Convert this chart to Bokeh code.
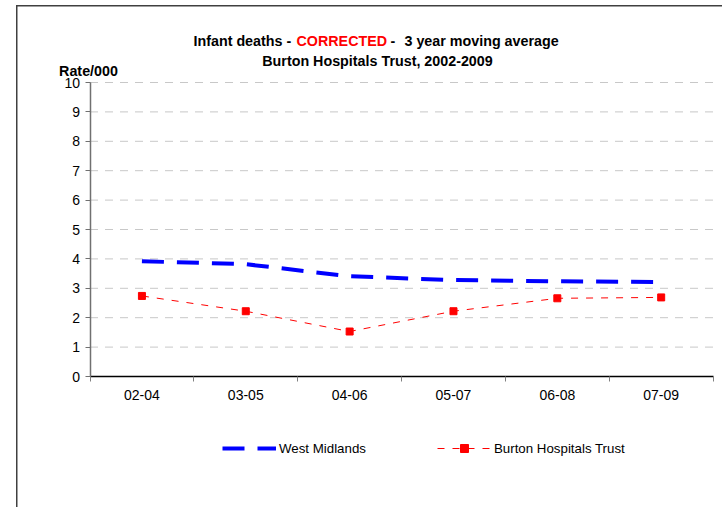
import numpy as np
from bokeh.plotting import figure
from bokeh.models import (Range1d, FixedTicker, Label, Legend, LegendItem,
                          ColumnDataSource)
from bokeh.embed import file_html
from bokeh.resources import INLINE

# ---- data ----
periods = ["02-04", "03-05", "04-06", "05-07", "06-08", "07-09"]
west_midlands = [3.92, 3.82, 3.41, 3.28, 3.24, 3.21]
burton = [2.74, 2.22, 1.53, 2.22, 2.66, 2.69]
y_ticks = list(range(0, 11))
title_1a = "Infant deaths -"
title_1b = "CORRECTED"
title_1c = "-"
title_1d = "3 year moving average"
title_2 = "Burton Hospitals Trust, 2002-2009"
y_title = "Rate/000"
series_names = ["West Midlands", "Burton Hospitals Trust"]

FONT = "Liberation Sans"

# ---- layout constants (pixels) ----
W, H = 722, 507
FL, FB = 40, 40          # frame left offset / bottom border
X0, XU = 89.5, 103.85    # pixel of x=0, pixels per category
Y0, YU = 376.0, 29.4     # pixel of y=0, pixels per unit
frame_bottom = H - FB

n = len(periods)
x_range = Range1d((FL - X0) / XU, (W - X0) / XU)
y_range = Range1d((Y0 - frame_bottom) / YU, Y0 / YU)

xc = np.arange(n) + 0.5
src = ColumnDataSource(dict(x=xc, wm=west_midlands, bu=burton))

p = figure(width=W, height=H, output_backend="svg", toolbar_location=None,
           x_range=x_range, y_range=y_range,
           min_border_left=FL, min_border_right=0, min_border_top=0,
           min_border_bottom=FB)
p.outline_line_color = None
p.background_fill_color = None
p.border_fill_color = None
p.styles = {
    "background": ("linear-gradient(#404040,#404040) 16px 5px / 1.5px 100% no-repeat, "
                   "linear-gradient(#404040,#404040) 16px 5px / 100% 1.5px no-repeat, "
                   "#ffffff")
}
p.xgrid.visible = False
p.ygrid.visible = False

# horizontal gridlines (dashed) from the tick list
grid_y = [t for t in y_ticks if t > 0]
p.segment(x0=[0] * len(grid_y), x1=[n] * len(grid_y), y0=grid_y, y1=grid_y,
          line_color="#c8c8c8", line_width=1, line_dash="8 7")

# x axis: labels at category centres, ticks at category boundaries (minor)
xa = p.xaxis[0]
xa.fixed_location = 0
xa.bounds = (0, n)
xa.ticker = FixedTicker(ticks=list(xc), minor_ticks=list(range(0, n + 1)))
xa.major_label_overrides = {float(v): lab for v, lab in zip(xc, periods)}
xa.major_tick_out = 0
xa.major_tick_in = 0
xa.minor_tick_out = 5
xa.minor_tick_in = 0
xa.minor_tick_line_color = "#808080"
xa.axis_line_color = "black"
xa.axis_line_width = 1.5
xa.major_label_text_font = FONT
xa.major_label_text_font_size = "14px"
xa.major_label_text_color = "black"
xa.major_label_standoff = 8

ya = p.yaxis[0]
ya.fixed_location = 0
ya.bounds = (0, 10)
ya.ticker = FixedTicker(ticks=y_ticks)
ya.major_tick_out = 5
ya.major_tick_in = 0
ya.minor_tick_out = 0
ya.minor_tick_in = 0
ya.axis_line_color = "#707070"
ya.axis_line_width = 1.5
ya.major_tick_line_color = "#707070"
ya.major_label_text_font = FONT
ya.major_label_text_font_size = "14px"
ya.major_label_text_color = "black"
ya.major_label_standoff = 5

# series
wm_line = p.line("x", "wm", source=src, line_color="#0000ff", line_width=4,
                 line_dash="22 13")
bu_line = p.line("x", "bu", source=src, line_color="#ff0000", line_width=1,
                 line_dash="7 8")
bu_pts = p.scatter("x", "bu", source=src, marker="square", size=7,
                   fill_color="#ff0000", line_color="#ff0000")

legend = Legend(items=[LegendItem(label=series_names[0], renderers=[wm_line]),
                       LegendItem(label=series_names[1], renderers=[bu_line, bu_pts])],
                orientation="horizontal", location=(222 - FL, frame_bottom - 458),
                glyph_width=54, glyph_height=20, label_standoff=3, spacing=71,
                padding=0, margin=0, border_line_alpha=0, background_fill_alpha=0,
                label_text_font=FONT, label_text_font_size="13.3px",
                label_text_color="black")
p.add_layout(legend, "center")

# titles: positions given in reference pixels, converted to frame screen units
def lab(px, py, text, color="black", align="left", size="14.3px", bold=True):
    p.add_layout(Label(x=px - FL, y=frame_bottom - py, x_units="screen",
                       y_units="screen", text=text,
                       text_font=FONT, text_font_size=size,
                       text_font_style="bold" if bold else "normal",
                       text_color=color, text_align=align,
                       text_baseline="alphabetic"))

lab(193, 40.5, title_1a)
lab(296, 40.5, title_1b, color="#ff0000")
lab(390, 40.5, title_1c)
lab(404, 40.5, title_1d)
lab(377, 60, title_2, align="center")
lab(88, 70, y_title, align="center")

open("out.html", "w").write(file_html(p, INLINE))
